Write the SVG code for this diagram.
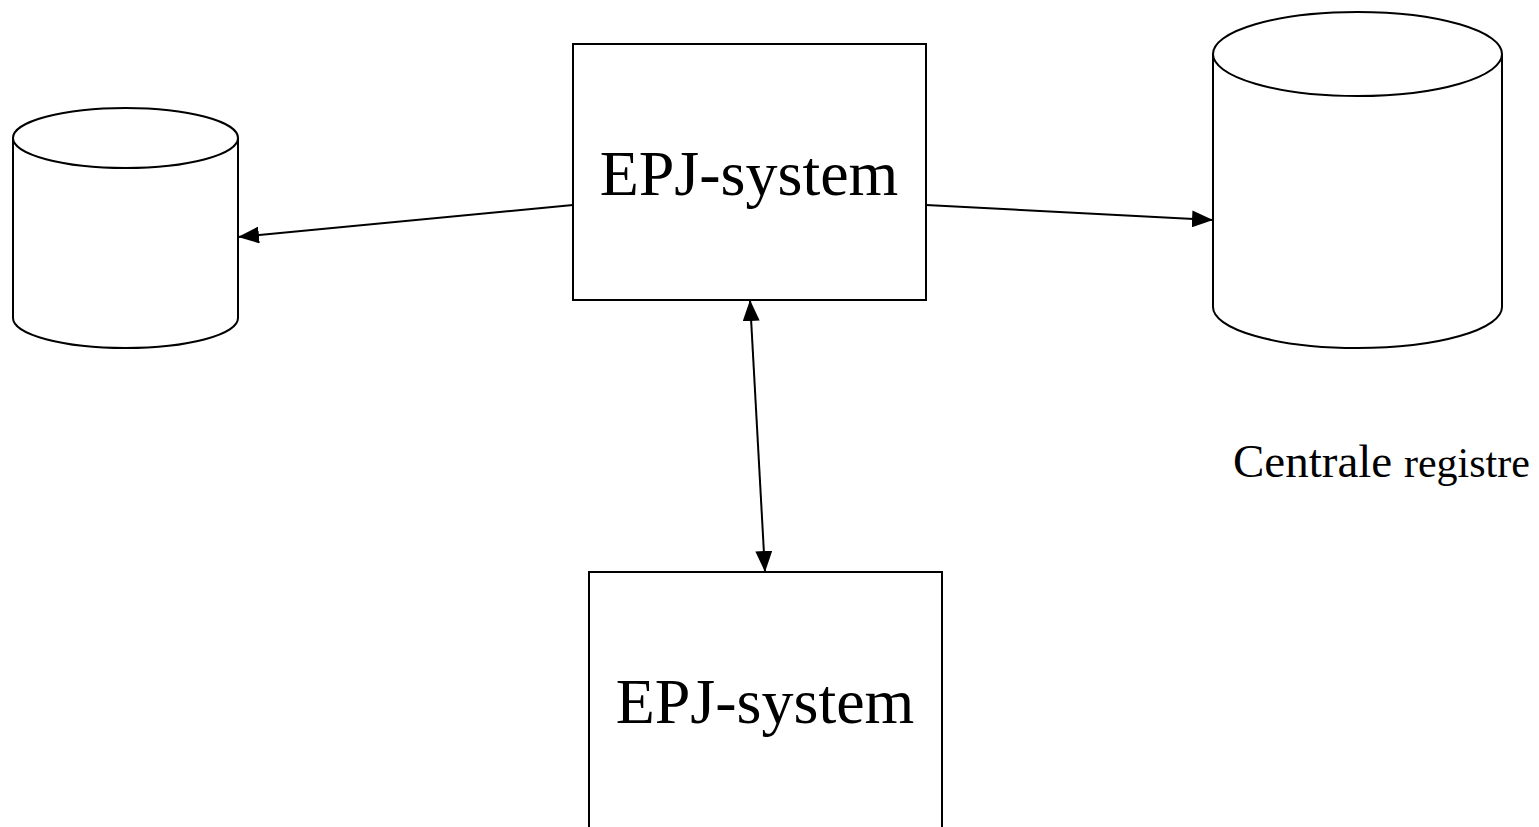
<svg xmlns="http://www.w3.org/2000/svg" width="1539" height="827" viewBox="0 0 1539 827">
  <defs>
    <marker id="arrow" markerUnits="userSpaceOnUse" markerWidth="21" markerHeight="17" refX="21" refY="8.5" orient="auto-start-reverse">
      <path d="M0,0 L21,8.5 L0,17 z" fill="#000"/>
    </marker>
  </defs>
  <style>
    .shape { fill: #fff; stroke: #000; stroke-width: 2; }
    .conn { fill: none; stroke: #000; stroke-width: 2; }
    .lbl { font-family: "Liberation Serif", "Times New Roman", serif; fill: #000; }
  </style>
  <rect width="1539" height="827" fill="#fff"/>

  <g id="db-left">
    <path class="shape" d="M13,138 L13,318 A112.5,30 0 0 0 238,318 L238,138"/>
    <ellipse class="shape" cx="125.5" cy="138" rx="112.5" ry="30"/>
  </g>

  <g id="db-central">
    <path class="shape" d="M1213,54 L1213,307 A144.5,41 0 0 0 1502,307 L1502,54"/>
    <ellipse class="shape" cx="1357.5" cy="54" rx="144.5" ry="42"/>
  </g>

  <g id="label-central">
    <text class="lbl" x="1233" y="477"><tspan font-size="47">Centrale </tspan><tspan font-size="42">registre</tspan></text>
  </g>

  <g id="epj-top">
    <rect class="shape" x="573" y="44" width="353" height="256"/>
    <text class="lbl" x="749" y="195" font-size="64" text-anchor="middle">EPJ-system</text>
  </g>

  <g id="epj-bottom">
    <rect class="shape" x="589" y="572" width="353" height="270"/>
    <text class="lbl" x="765" y="723" font-size="64" text-anchor="middle">EPJ-system</text>
  </g>

  <g id="connectors">
    <line class="conn" x1="573" y1="205" x2="238" y2="237" marker-end="url(#arrow)"/>
    <line class="conn" x1="926" y1="205" x2="1213" y2="220" marker-end="url(#arrow)"/>
    <line class="conn" x1="750" y1="300" x2="765" y2="572" marker-start="url(#arrow)" marker-end="url(#arrow)"/>
  </g>
</svg>
